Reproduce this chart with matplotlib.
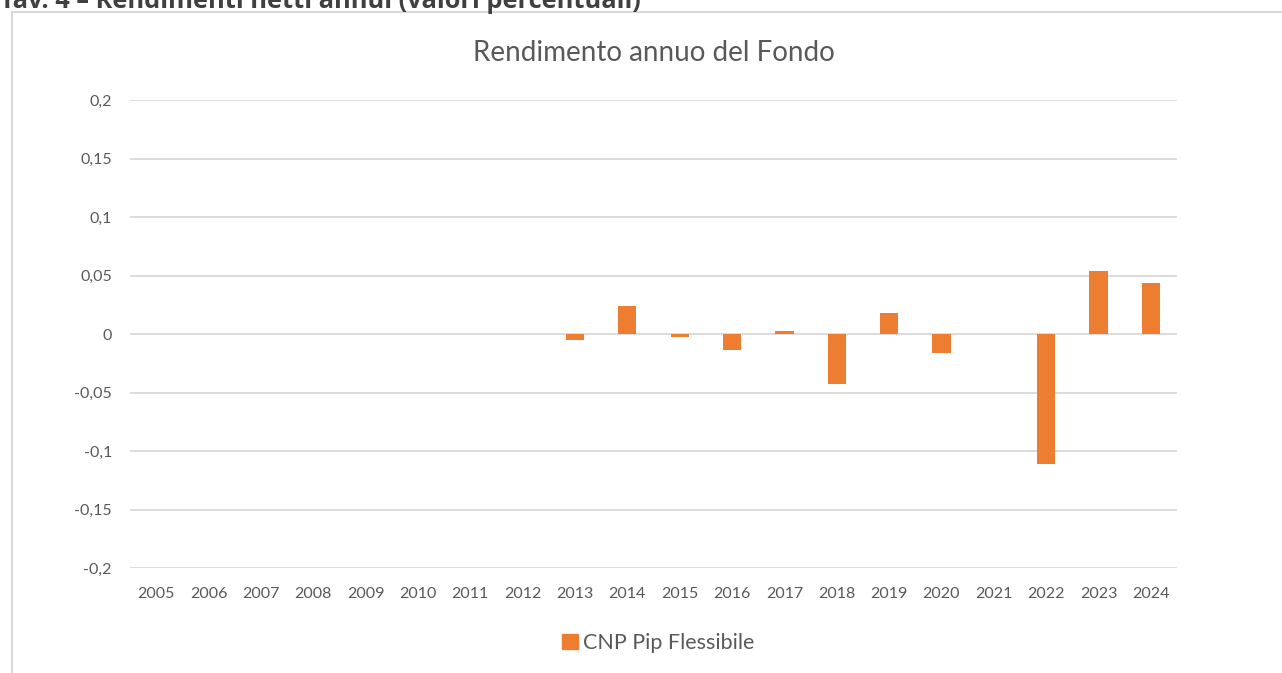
import matplotlib.pyplot as plt
import numpy as np
from matplotlib.lines import Line2D
from matplotlib.patches import Patch

years = [str(y) for y in range(2005, 2025)]
rendimento = [np.nan, np.nan, np.nan, np.nan, np.nan, np.nan, np.nan, np.nan,
              -0.005, 0.0237, -0.0027, -0.0137, 0.0026, -0.0425, 0.018, -0.016,
              np.nan, -0.1114, 0.0539, 0.0434]
y_ticks = [-0.2, -0.15, -0.1, -0.05, 0, 0.05, 0.1, 0.15, 0.2]
y_labels = ['-0,2', '-0,15', '-0,1', '-0,05', '0', '0,05', '0,1', '0,15', '0,2']

W, H = 1282, 673
plt.rcParams['font.family'] = ['Lato', 'DejaVu Sans']
grey = '#595959'
orange = '#ED7D31'

fig = plt.figure(figsize=(W / 100, H / 100), dpi=100)

# cut-off heading above the chart frame
fig.text(0, 1 - 8 / H, 'Tav. 4 – Rendimenti netti annui (valori percentuali)',
         fontsize=18.3, fontweight='bold', color='#404040', va='baseline', ha='left',
         family=['Open Sans', 'DejaVu Sans'])

# chart frame (top and left edges visible)
fig.add_artist(Line2D([12 / W, 1], [1 - 11.5 / H, 1 - 11.5 / H], color='#d9d9d9', lw=1.5,
                      transform=fig.transFigure))
fig.add_artist(Line2D([12 / W, 12 / W], [0, 1 - 11.5 / H], color='#d9d9d9', lw=1.5,
                      transform=fig.transFigure))

ax = fig.add_axes([130 / W, 1 - 568 / H, (1177 - 130) / W, (568 - 100) / H])
x = np.arange(len(years))
ax.bar(x, np.nan_to_num(rendimento), width=0.35, color=orange, zorder=3)

ax.set_xlim(-0.5, len(years) - 0.5)
ax.set_ylim(-0.2, 0.2)
ax.set_yticks(y_ticks)
ax.set_yticklabels(y_labels)
ax.set_xticks(x)
ax.set_xticklabels(years)
ax.tick_params(axis='both', length=0, colors=grey, labelsize=11.5)
ax.tick_params(axis='y', pad=13)
ax.tick_params(axis='x', pad=14)
ax.grid(axis='y', color='#d9d9d9', lw=1.3, zorder=0)
for s in ax.spines.values():
    s.set_visible(False)

fig.text(654 / W, 1 - 53 / H, 'Rendimento annuo del Fondo', fontsize=20,
         color=grey, ha='center', va='center')

fig.legend(handles=[Patch(color=orange, label='CNP Pip Flessibile')],
           loc='center', bbox_to_anchor=(658 / W, 1 - 643 / H), frameon=False,
           fontsize=15.5, labelcolor=grey, handlelength=0.75, handleheight=0.75,
           handletextpad=0.2)

fig.savefig('out.png', dpi=100)
